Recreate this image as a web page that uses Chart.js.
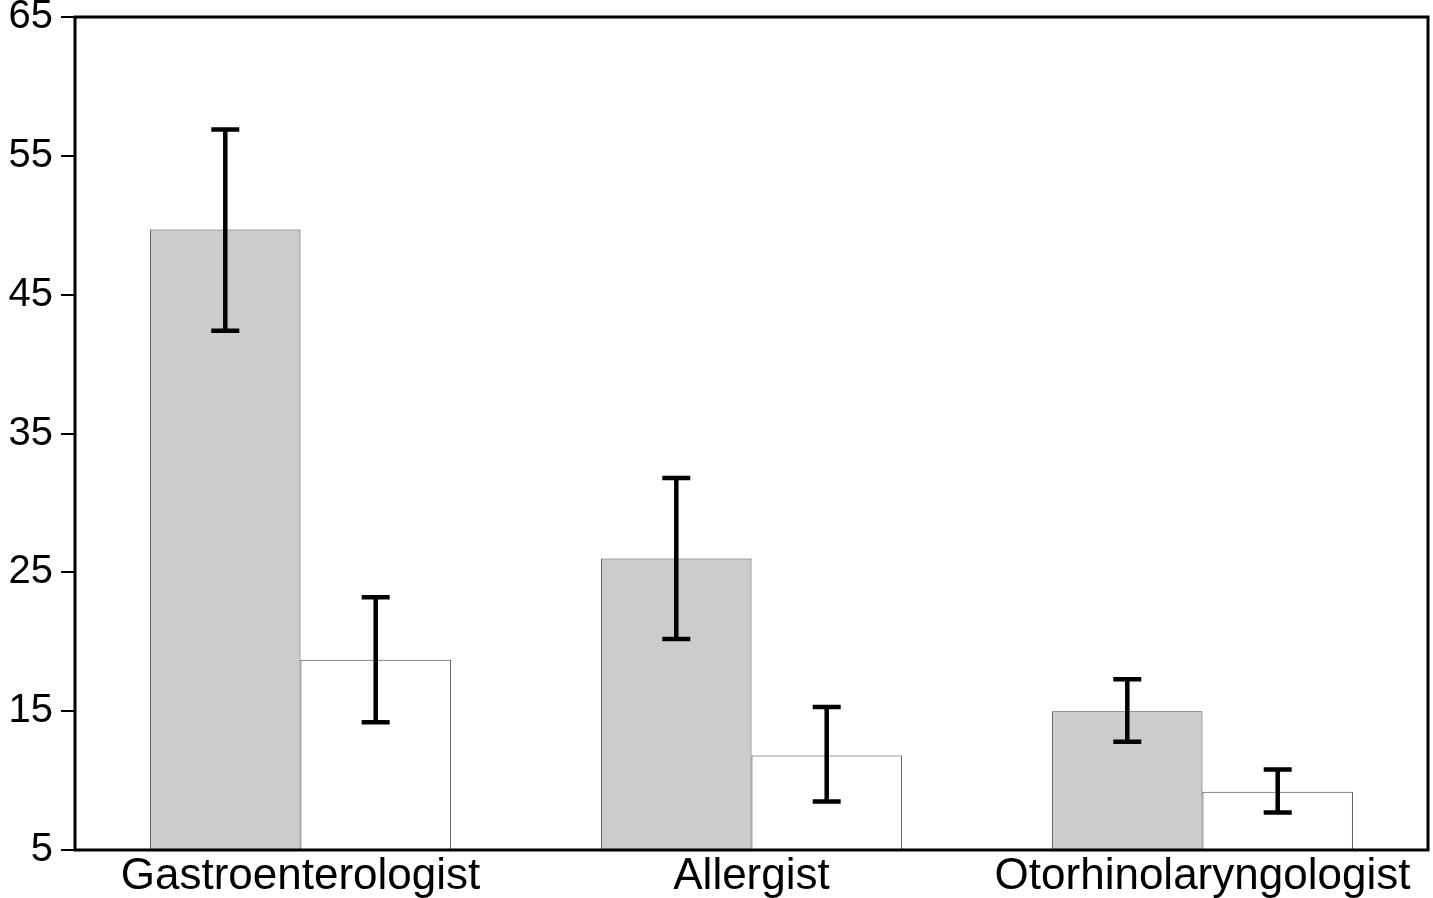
<!DOCTYPE html>
<html>
<head>
<meta charset="utf-8">
<script src="https://cdn.jsdelivr.net/npm/chart.js@4/dist/chart.umd.min.js"></script>
<style>
  html, body { margin: 0; padding: 0; background: #fff; }
  #wrap { width: 1433px; height: 898px; }
</style>
</head>
<body>
<div id="wrap"><canvas id="chart" width="1433" height="898"></canvas></div>
<script>
const categories = ['Gastroenterologist', 'Allergist', 'Otorhinolaryngologist'];
const grayValues = [49.7, 26.0, 15.0];
const grayLow = [42.4, 20.2, 12.8];
const grayHigh = [56.9, 31.8, 17.3];
const whiteValues = [18.7, 11.8, 9.2];
const whiteLow = [14.2, 8.5, 7.7];
const whiteHigh = [23.2, 15.3, 10.8];
const yTicks = [5, 15, 25, 35, 45, 55, 65];

const errorRanges = [
    { low: grayLow, high: grayHigh },
    { low: whiteLow, high: whiteHigh }
];

// error bars with caps, drawn from the y scale
const errorBars = {
    id: 'errorBars',
    afterDatasetsDraw(chart) {
        const ctx = chart.ctx;
        const y = chart.scales.y;
        ctx.save();
        ctx.strokeStyle = '#000';
        ctx.lineWidth = 4.5;
        chart.data.datasets.forEach((ds, i) => {
            const meta = chart.getDatasetMeta(i);
            meta.data.forEach((bar, j) => {
                const yLo = y.getPixelForValue(errorRanges[i].low[j]);
                const yHi = y.getPixelForValue(errorRanges[i].high[j]);
                const x = bar.x;
                ctx.beginPath();
                ctx.moveTo(x, yLo);
                ctx.lineTo(x, yHi);
                ctx.moveTo(x - 14, yLo);
                ctx.lineTo(x + 14, yLo);
                ctx.moveTo(x - 14, yHi);
                ctx.lineTo(x + 14, yHi);
                ctx.stroke();
            });
        });
        ctx.restore();
    }
};

// box around the plot area
const frame = {
    id: 'frame',
    afterDraw(chart) {
        const a = chart.chartArea;
        const ctx = chart.ctx;
        ctx.save();
        ctx.strokeStyle = '#000';
        ctx.lineWidth = 3;
        ctx.strokeRect(a.left, a.top, a.right - a.left, a.bottom - a.top);
        ctx.restore();
    }
};

new Chart(document.getElementById('chart').getContext('2d'), {
    type: 'bar',
    data: {
        labels: categories,
        datasets: [{
            data: grayValues,
            backgroundColor: '#cccccc',
            borderColor: '#444444',
            borderWidth: 1
        }, {
            data: whiteValues,
            backgroundColor: '#ffffff',
            borderColor: '#444444',
            borderWidth: 1
        }]
    },
    options: {
        responsive: false,
        animation: false,
        layout: { padding: { top: 0, right: 5, left: 0, bottom: 0 } },
        plugins: {
            legend: { display: false },
            tooltip: { enabled: false }
        },
        datasets: {
            bar: { categoryPercentage: 0.667, barPercentage: 1.0 }
        },
        scales: {
            x: {
                grid: { display: false, drawTicks: false },
                border: { display: false },
                ticks: {
                    color: '#000',
                    padding: 0,
                    font: { family: 'Liberation Sans, Arial, sans-serif', size: 44 }
                },
                afterFit(scale) {
                    scale.height = 48;
                    scale.paddingLeft = 0;
                    scale.paddingRight = 0;
                }
            },
            y: {
                min: 5,
                max: 65,
                afterBuildTicks(scale) {
                    scale.ticks = yTicks.map(v => ({ value: v }));
                },
                grid: {
                    drawOnChartArea: false,
                    drawTicks: true,
                    tickLength: 14,
                    color: '#000',
                    lineWidth: 2
                },
                border: { display: false },
                ticks: {
                    color: '#000',
                    padding: 8,
                    font: { family: 'Liberation Sans, Arial, sans-serif', size: 40 }
                },
                afterFit(scale) {
                    scale.width = 75;
                    scale.paddingTop = 17;
                    scale.paddingBottom = 0;
                }
            }
        }
    },
    plugins: [errorBars, frame]
});
</script>
</body>
</html>
